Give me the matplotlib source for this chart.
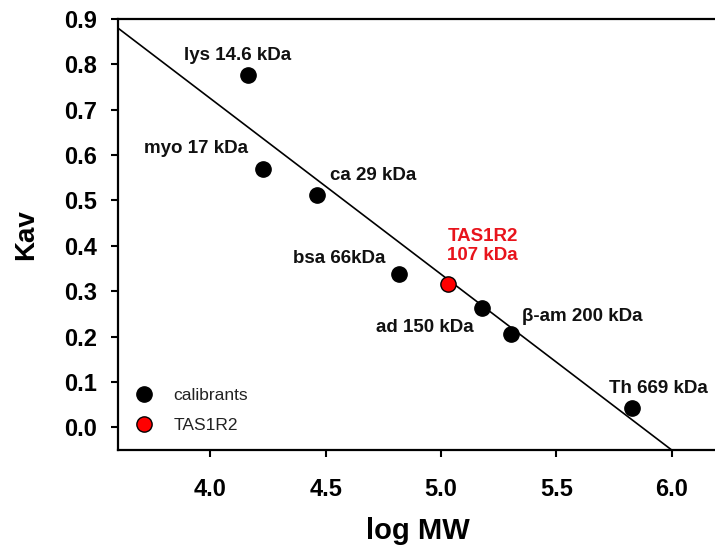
import matplotlib
matplotlib.use("Agg")
import matplotlib.pyplot as plt
import numpy as np

# ---- data ----
cal_names = ["lys 14.6 kDa", "myo 17 kDa", "ca 29 kDa", "bsa 66kDa",
             "ad 150 kDa", "\u03b2-am 200 kDa", "Th 669 kDa"]
cal_logmw = [4.164, 4.230, 4.462, 4.816, 5.178, 5.303, 5.826]
cal_kav = [0.777, 0.570, 0.511, 0.339, 0.264, 0.205, 0.042]
sample_name = "TAS1R2\n107 kDa"
sample_logmw = [5.031]
sample_kav = [0.317]
fit_slope = -0.3875
fit_intercept = 2.275
x_ticks = [4.0, 4.5, 5.0, 5.5, 6.0]
y_ticks = [0.0, 0.1, 0.2, 0.3, 0.4, 0.5, 0.6, 0.7, 0.8, 0.9]

# label positions (data coords)
cal_label_pos = [(4.119, 0.819), (3.938, 0.615), (4.708, 0.555), (4.557, 0.372),
                 (4.929, 0.220), (5.613, 0.244), (5.942, 0.086)]
sample_label_pos = (5.180, 0.400)

plt.rcParams['font.family'] = ['Liberation Sans', 'DejaVu Sans']

fig = plt.figure(figsize=(7.15, 5.48), dpi=100)
ax = fig.add_axes([0.165, 0.1788, 0.839, 0.7865])

xmin, xmax = 3.6, 6.2
ymin, ymax = -0.05, 0.9

# regression line, clipped to the axes box
xl = np.array([xmin, (ymin - fit_intercept) / fit_slope])
ax.plot(xl, fit_intercept + fit_slope * xl, color='black', lw=1.2, zorder=2)

ax.plot(cal_logmw, cal_kav, 'o', ms=11, mfc='black', mec='black', mew=1,
        label='calibrants', zorder=3, clip_on=False)
ax.plot(sample_logmw, sample_kav, 'o', ms=11, mfc='#ff0000', mec='black', mew=1,
        label='TAS1R2', zorder=3, clip_on=False)

for name, (tx, ty) in zip(cal_names, cal_label_pos):
    ax.text(tx, ty, name, ha='center', va='center', fontsize=13.5,
            fontweight='bold', color='#111111')
ax.text(sample_label_pos[0], sample_label_pos[1], sample_name, ha='center',
        va='center', fontsize=13.5, fontweight='bold', color='#e8141c',
        linespacing=1.15)

ax.set_xlim(xmin, xmax)
ax.set_ylim(ymin, ymax)
ax.set_xticks(x_ticks)
ax.set_yticks(y_ticks)
ax.set_xticklabels([f"{v:.1f}" for v in x_ticks])
ax.set_yticklabels([f"{v:.1f}" for v in y_ticks])
for lab in ax.get_xticklabels() + ax.get_yticklabels():
    lab.set_fontweight('bold')
    lab.set_fontsize(17)
ax.tick_params(axis='both', direction='out', length=5, width=1.5,
               top=False, right=False)
ax.tick_params(axis='x', pad=15)
ax.tick_params(axis='y', pad=10)
for s in ['left', 'bottom', 'top', 'right']:
    ax.spines[s].set_linewidth(1.6)

ax.set_xlabel('log MW', fontsize=21, fontweight='bold', labelpad=12)
ax.set_ylabel('Kav', fontsize=20, fontweight='bold', labelpad=18)

leg = ax.legend(loc='lower left', bbox_to_anchor=(0.0, 0.02), frameon=False,
                fontsize=12.5, handletextpad=0.7, labelspacing=0.85,
                borderaxespad=0.1)
for t in leg.get_texts():
    t.set_color('#222222')

fig.savefig('out.png', dpi=100, facecolor='white')
